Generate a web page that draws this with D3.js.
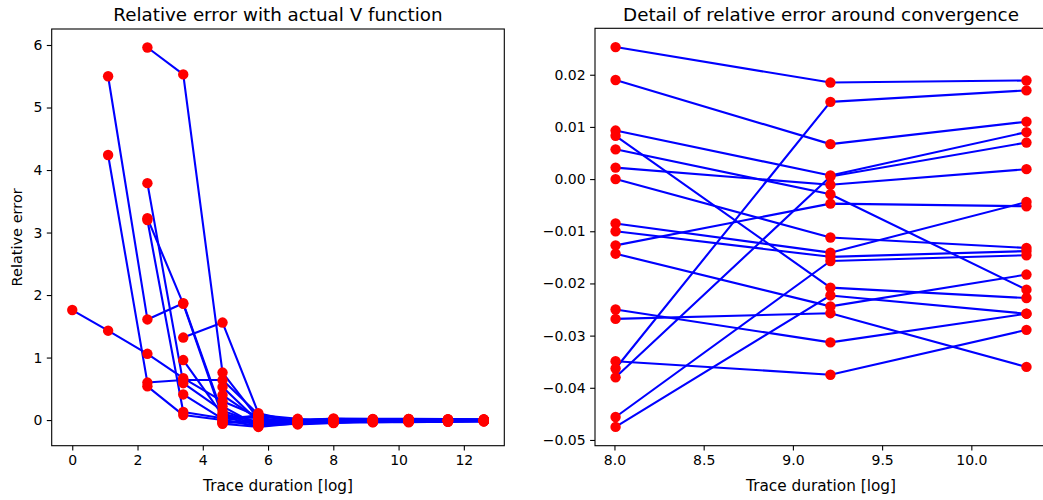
<!DOCTYPE html>
<html>
<head>
<meta charset="utf-8">
<script src="https://cdn.jsdelivr.net/npm/d3@7"></script>
<style>
body { margin: 0; background: #fff; }
text { font-family: "DejaVu Sans", sans-serif; fill: #000; }
</style>
</head>
<body>
<div class="chart"></div>
<script>
var width = 1043, height = 500;

// trace durations (plotted as natural log)
var durations = [1, 3, 10, 30, 100, 300, 1000, 3000, 10000, 30000, 100000, 300000];

// relative error of each run, null where the run has no value yet
var run1  = [1.76, 1.43, 1.06, 0.67, 0.30, 0.06, -0.01, 0.0253, 0.0185, 0.0189, 0.015, 0.012];
var run2  = [null, 5.50, 1.61, 1.87, 0.10, -0.03, 0.01, 0.0190, 0.0067, 0.0110, 0.008, 0.006];
var run3  = [null, 4.24, 0.60, 0.64, 0.64, 0.09, -0.04, 0.0093, 0.0007, 0.0090, 0.004, 0.002];
var run4  = [null, null, 5.96, 5.53, 0.76, 0.02, -0.03, 0.0083, -0.0208, -0.0228, -0.015, -0.010];
var run5  = [null, null, 3.79, 0.59, 0.15, -0.05, -0.05, 0.0057, -0.0029, -0.0212, -0.018, -0.012];
var run6  = [null, null, 3.23, 1.86, 0.05, -0.08, -0.02, 0.0022, -0.0011, 0.0019, 0.003, 0.001];
var run7  = [null, null, 3.20, 0.13, 0.03, 0.04, -0.06, 0.0000, -0.0112, -0.0132, -0.009, -0.007];
var run8  = [null, null, 0.54, 0.08, 0.00, -0.10, 0.00, -0.0085, -0.0141, -0.0044, -0.006, -0.004];
var run9  = [null, null, null, 1.32, 1.56, 0.11, -0.03, -0.0100, -0.0149, -0.0138, -0.011, -0.008];
var run10 = [null, null, null, 0.96, 0.08, -0.06, -0.04, -0.0127, -0.0047, -0.0052, -0.004, -0.003];
var run11 = [null, null, null, 0.41, 0.02, 0.07, -0.01, -0.0143, -0.0244, -0.0183, -0.016, -0.013];
var run12 = [null, null, null, null, 0.53, -0.02, -0.05, -0.0250, -0.0313, -0.0258, -0.020, -0.017];
var run13 = [null, null, null, null, 0.40, 0.01, -0.03, -0.0268, -0.0257, -0.0360, -0.028, -0.022];
var run14 = [null, null, null, null, 0.22, -0.09, -0.06, -0.0349, -0.0375, -0.0289, -0.025, -0.020];
var run15 = [null, null, null, null, -0.02, 0.08, 0.02, -0.0363, 0.0148, 0.0170, 0.011, 0.009];
var run16 = [null, null, null, null, -0.04, -0.04, -0.04, -0.0380, 0.0005, 0.0070, 0.005, 0.003];
var run17 = [null, null, null, null, -0.05, 0.00, -0.07, -0.0456, -0.0157, -0.0146, -0.012, -0.010];
var run18 = [null, null, null, null, -0.06, -0.11, -0.05, -0.0475, -0.0223, -0.0258, -0.021, -0.016];

var runs = [run1, run2, run3, run4, run5, run6, run7, run8, run9,
            run10, run11, run12, run13, run14, run15, run16, run17, run18];

// the detail plot only shows these duration indices
var detailIdx = [7, 8, 9];

var leftXTicks = [0, 2, 4, 6, 8, 10, 12];
var leftYTicks = [0, 1, 2, 3, 4, 5, 6];
var rightXTicks = [8.0, 8.5, 9.0, 9.5, 10.0];
var rightYTicks = [-0.05, -0.04, -0.03, -0.02, -0.01, 0.00, 0.01, 0.02];

var svg = d3.select(".chart")
    .append("svg")
    .attr("width", width)
    .attr("height", height);

function toPoints(run, idx) {
    return idx.map(function(i) { return {x: Math.log(durations[i]), v: run[i]}; });
}

function panel(opt) {
    var x = d3.scaleLinear().domain(opt.xDomain).range([opt.left, opt.right]);
    var y = d3.scaleLinear().domain(opt.yDomain).range([opt.bottom, opt.top]);

    var g = svg.append("g");

    var line = d3.line()
        .defined(function(d) { return d.v != null; })
        .x(function(d) { return x(d.x); })
        .y(function(d) { return y(d.v); });

    var pts = runs.map(function(r) { return toPoints(r, opt.idx); });

    g.selectAll("path.run")
        .data(pts)
        .enter().append("path")
        .attr("class", "run")
        .attr("d", line)
        .attr("fill", "none")
        .attr("stroke", "#0000ff")
        .attr("stroke-width", 2.1)
        .attr("stroke-linejoin", "round");

    var dots = [];
    pts.forEach(function(p) { p.forEach(function(d) { if (d.v != null) dots.push(d); }); });

    g.selectAll("circle")
        .data(dots)
        .enter().append("circle")
        .attr("cx", function(d) { return x(d.x); })
        .attr("cy", function(d) { return y(d.v); })
        .attr("r", 5.2)
        .attr("fill", "#ff0000");

    var xAxis = g.append("g")
        .attr("transform", "translate(0," + opt.bottom + ")")
        .call(d3.axisBottom(x).tickValues(opt.xTicks).tickFormat(opt.xFmt)
            .tickSizeOuter(0).tickSize(4.9).tickPadding(4));
    var yAxis = g.append("g")
        .attr("transform", "translate(" + opt.left + ",0)")
        .call(d3.axisLeft(y).tickValues(opt.yTicks).tickFormat(opt.yFmt)
            .tickSizeOuter(0).tickSize(4.9).tickPadding(4.5));

    [xAxis, yAxis].forEach(function(a) {
        a.select(".domain").remove();
        a.selectAll("line").attr("stroke", "#000").attr("stroke-width", 1.1);
        a.selectAll("text").style("font-size", "14px").attr("fill", "#000");
    });

    g.append("rect")
        .attr("x", opt.left).attr("y", opt.top)
        .attr("width", opt.right - opt.left)
        .attr("height", opt.bottom - opt.top)
        .attr("fill", "none")
        .attr("stroke", "#000")
        .attr("stroke-width", 1.1);

    g.append("text")
        .attr("x", (opt.left + opt.right) / 2)
        .attr("y", 21)
        .attr("text-anchor", "middle")
        .style("font-size", "18.3px")
        .text(opt.title);

    g.append("text")
        .attr("x", (opt.left + opt.right) / 2)
        .attr("y", 491)
        .attr("text-anchor", "middle")
        .style("font-size", "15.3px")
        .text("Trace duration [log]");

    if (opt.yLabel) {
        g.append("text")
            .attr("transform", "translate(22," + ((opt.top + opt.bottom) / 2) + ") rotate(-90)")
            .attr("text-anchor", "middle")
            .style("font-size", "14.5px")
            .text(opt.yLabel);
    }
}

panel({
    left: 51.7, right: 504.3, top: 29, bottom: 445.7,
    xDomain: [-0.63, 13.24], yDomain: [-0.41, 6.256],
    idx: d3.range(durations.length),
    xTicks: leftXTicks, yTicks: leftYTicks,
    xFmt: d3.format("d"), yFmt: d3.format("d"),
    title: "Relative error with actual V function",
    yLabel: "Relative error"
});

panel({
    left: 595, right: 1047, top: 28.3, bottom: 445.7,
    xDomain: [7.891, 10.424], yDomain: [-0.0511, 0.0289],
    idx: detailIdx,
    xTicks: rightXTicks, yTicks: rightYTicks,
    xFmt: d3.format(".1f"), yFmt: d3.format(".2f"),
    title: "Detail of relative error around convergence"
});
</script>
</body>
</html>
